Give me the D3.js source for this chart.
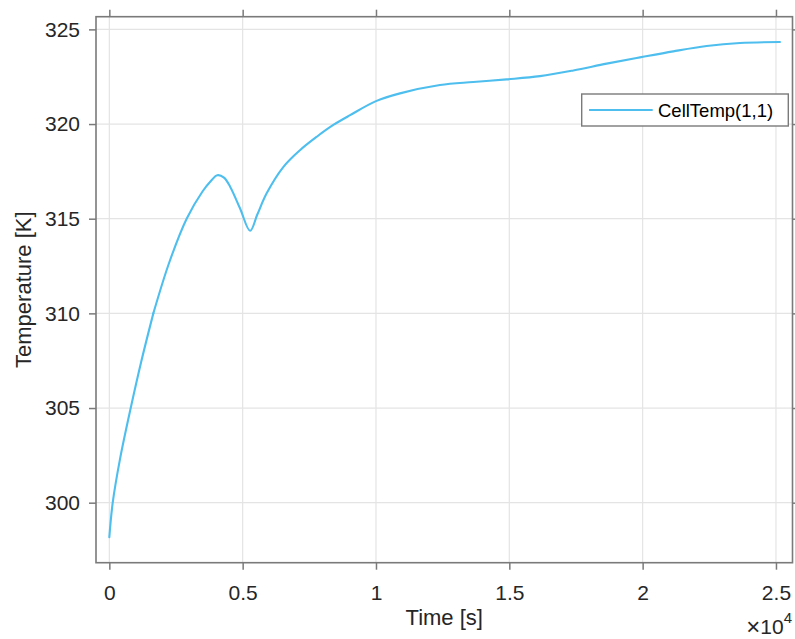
<!DOCTYPE html>
<html>
<head>
<meta charset="utf-8">
<script src="https://cdn.jsdelivr.net/npm/d3@7"></script>
<style>
  html, body { margin: 0; padding: 0; background: #ffffff; }
  svg { display: block; font-family: "Liberation Sans", Arial, Helvetica, sans-serif; }
</style>
</head>
<body>
<svg id="chart" width="795" height="639"></svg>
<script>
// Cell temperature over the simulation run
const timeSeconds = [0, 127, 400, 802, 1200, 1650, 2250, 2900, 3500, 3800, 4050, 4300, 4530, 4900, 5280,
  5550, 5900, 6530, 7150, 7780, 8400, 9030, 10000, 10900, 12400, 13650, 14900, 16150, 17400, 18650, 19900,
  21150, 22400, 23650, 25150];
const cellTemp = [298.18, 300.0, 302.3, 305.0, 307.47, 310.0, 312.7, 315.0, 316.45, 316.98, 317.3, 317.17, 316.69, 315.55, 314.36,
  315.22, 316.34, 317.74, 318.62, 319.33, 319.95, 320.47, 321.21, 321.62, 322.06, 322.22, 322.36, 322.53, 322.83, 323.19, 323.52,
  323.84, 324.12, 324.28, 324.33];
const xTicks = [0, 5000, 10000, 15000, 20000, 25000];
const xTickLabels = ["0", "0.5", "1", "1.5", "2", "2.5"];
const yTicks = [300, 305, 310, 315, 320, 325];
const seriesName = "CellTemp(1,1)";

const svg = d3.select("#chart");
const plotLeft = 96, plotRight = 792.5, plotTop = 16.7, plotBottom = 562.7;

const x = d3.scaleLinear().domain([-500, 25620]).range([plotLeft, plotRight]);
const y = d3.scaleLinear().domain([296.83, 325.67]).range([plotBottom, plotTop]);

const axisColor = "#7a7a7a";
const textColor = "#262626";
const gridColor = "#e4e4e4";

// grid
const grid = svg.append("g");
grid.selectAll("line.gx").data(xTicks).join("line")
  .attr("x1", d => x(d)).attr("x2", d => x(d))
  .attr("y1", plotTop).attr("y2", plotBottom)
  .attr("stroke", gridColor).attr("stroke-width", 1.2);
grid.selectAll("line.gy").data(yTicks).join("line")
  .attr("x1", plotLeft).attr("x2", plotRight)
  .attr("y1", d => y(d)).attr("y2", d => y(d))
  .attr("stroke", gridColor).attr("stroke-width", 1.2);

// axes: ticks outside on every side, labels on bottom and left
function styleAxis(g) {
  g.select(".domain").remove();
  g.selectAll(".tick line").attr("stroke", axisColor).attr("stroke-width", 1.5);
  g.selectAll(".tick text").attr("fill", textColor).attr("font-size", 21)
    .attr("font-family", "'Liberation Sans', Arial, sans-serif");
}
svg.append("g").attr("transform", `translate(0,${plotBottom})`)
  .call(d3.axisBottom(x).tickValues(xTicks).tickFormat((d, i) => xTickLabels[i]).tickSizeInner(7).tickSizeOuter(0).tickPadding(15))
  .call(styleAxis);
svg.append("g").attr("transform", `translate(0,${plotTop})`)
  .call(d3.axisTop(x).tickValues(xTicks).tickFormat("").tickSizeInner(7).tickSizeOuter(0))
  .call(styleAxis);
svg.append("g").attr("transform", `translate(${plotLeft},0)`)
  .call(d3.axisLeft(y).tickValues(yTicks).tickFormat(d3.format("d")).tickSizeInner(7).tickSizeOuter(0).tickPadding(9))
  .call(styleAxis);
svg.append("g").attr("transform", `translate(${plotRight},0)`)
  .call(d3.axisRight(y).tickValues(yTicks).tickFormat("").tickSizeInner(7).tickSizeOuter(0))
  .call(styleAxis);

// box
svg.append("rect").attr("x", plotLeft).attr("y", plotTop)
  .attr("width", plotRight - plotLeft).attr("height", plotBottom - plotTop)
  .attr("fill", "none").attr("stroke", axisColor).attr("stroke-width", 1.6);

// temperature trace: smooth spline on each side of the sharp dip
const pts = timeSeconds.map((t, i) => [t, cellTemp[i]]);
const dipIndex = cellTemp.indexOf(d3.min(cellTemp.slice(5, 20)));
const line = d3.line().x(d => x(d[0])).y(d => y(d[1])).curve(d3.curveCatmullRom.alpha(0.5));
[pts.slice(0, dipIndex + 1), pts.slice(dipIndex)].forEach(seg => {
  svg.append("path").datum(seg)
    .attr("d", line)
    .attr("fill", "none").attr("stroke", "#4DBEEE").attr("stroke-width", 2.1)
    .attr("stroke-linecap", "round").attr("stroke-linejoin", "round");
});

// axis titles
svg.append("text").attr("x", (plotLeft + plotRight) / 2).attr("y", 625)
  .attr("text-anchor", "middle").attr("fill", textColor).attr("font-size", 22)
  .text("Time [s]");
svg.append("text").attr("transform", `translate(31,${(plotTop + plotBottom) / 2}) rotate(-90)`)
  .attr("text-anchor", "middle").attr("fill", textColor).attr("font-size", 22)
  .text("Temperature [K]");

// exponent marker
const expo = svg.append("text").attr("x", 792).attr("y", 634).attr("text-anchor", "end")
  .attr("fill", textColor).attr("font-size", 21);
expo.append("tspan").attr("font-size", 24).attr("dy", 1).text("\u00d7");
expo.append("tspan").attr("dy", -1).text("10");
expo.append("tspan").attr("dy", -11).attr("font-size", 15).text("4");

// legend
const lg = svg.append("g");
lg.append("rect").attr("x", 581.7).attr("y", 94).attr("width", 206.6).attr("height", 32)
  .attr("fill", "#ffffff").attr("stroke", axisColor).attr("stroke-width", 1.4);
lg.append("line").attr("x1", 589).attr("x2", 652.7).attr("y1", 110).attr("y2", 110)
  .attr("stroke", "#4DBEEE").attr("stroke-width", 2);
lg.append("text").attr("x", 658).attr("y", 117).attr("fill", "#000000").attr("font-size", 18.5)
  .text(seriesName);
</script>
</body>
</html>
